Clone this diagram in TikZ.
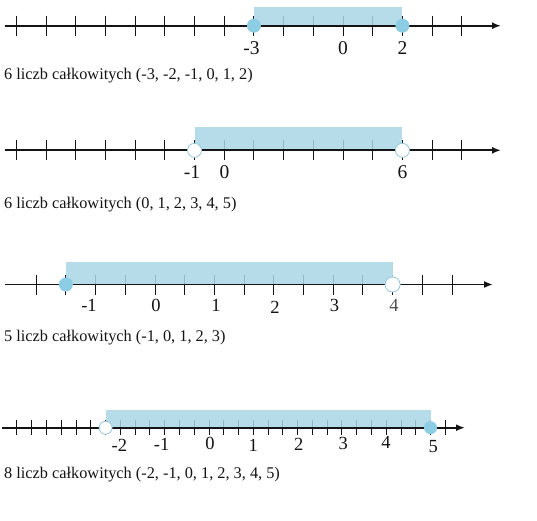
\documentclass[tikz,border=0pt]{standalone}
\usepackage{fontspec}
\setmainfont{Liberation Serif}
\usetikzlibrary{arrows.meta}
\definecolor{bandblue}{RGB}{170,214,230}
\definecolor{dotblue}{RGB}{140,205,227}
\definecolor{ringblue}{RGB}{150,200,216}
\definecolor{axisblack}{RGB}{20,20,20}
\definecolor{numgray}{RGB}{80,80,80}
\tikzset{
  axisline/.style={line width=1.9pt, draw=axisblack, -{Latex[length=9pt,width=7pt]}},
  tickmark/.style={line width=1pt, draw=axisblack},
  band/.style={fill=bandblue, draw=none, opacity=0.85},
  closeddot/.style={circle, fill=dotblue, draw=none, inner sep=0pt},
  opendot/.style={circle, fill=white, draw=ringblue, line width=0.8pt, inner sep=0pt},
  numlabel/.style={font=\fontsize{19.5}{21}\selectfont, text=axisblack, inner sep=0pt},
  numlabelsmall/.style={font=\fontsize{18.5}{20}\selectfont, text=axisblack, inner sep=0pt},
  caption/.style={font=\fontsize{16.3}{18}\selectfont, text=axisblack, anchor=west, inner sep=0pt},
}
\begin{document}
\begin{tikzpicture}[x=1pt,y=-1pt]
\useasboundingbox[fill=white] (0,0) rectangle (537,520);

% ---------- line 1 ----------
\coordinate (a1s) at (5,25.7);
\coordinate (a1e) at (501,25.7);
\foreach \k in {-11,...,4} {
  \draw[tickmark] ({343+29.7*\k},15.7) -- ({343+29.7*\k},35.7);
}
\fill[band] (253.9,7) rectangle (402.4,25.7);
\draw[axisline] (a1s) -- (a1e);
\node[closeddot, minimum size=14pt] (d1a) at (253.9,25.7) {};
\node[closeddot, minimum size=14pt] (d1b) at (402.4,25.7) {};
\node[numlabel] (l1a) at (251.5,48) {-3};
\node[numlabel] (l1b) at (343,48) {0};
\node[numlabel] (l1c) at (402.4,48) {2};
\node[caption] (c1) at (4,76) {6 liczb całkowitych (-3, -2, -1, 0, 1, 2)};

% ---------- line 2 ----------
\coordinate (a2s) at (5,150.3);
\coordinate (a2e) at (501,150.3);
\foreach \k in {-11,...,4} {
  \draw[tickmark] ({343+29.7*\k},140.3) -- ({343+29.7*\k},160.3);
}
\fill[band] (194.5,127) rectangle (402.4,150.3);
\draw[axisline] (a2s) -- (a2e);
\node[opendot, minimum size=14pt] (d2a) at (194.5,150.3) {};
\node[opendot, minimum size=14pt] (d2b) at (402.4,150.3) {};
\node[numlabel] (l2a) at (192,172) {-1};
\node[numlabel] (l2b) at (224.5,172) {0};
\node[numlabel] (l2c) at (402.4,172) {6};
\node[caption] (c2) at (4,205) {6 liczb całkowitych (0, 1, 2, 3, 4, 5)};

% ---------- line 3 ----------
\coordinate (a3s) at (5,284.5);
\coordinate (a3e) at (493,284.5);
\foreach \k in {-4,...,10} {
  \draw[tickmark] ({155+29.7*\k},274.5) -- ({155+29.7*\k},294.5);
}
\fill[band] (65.9,262) rectangle (392.6,284.5);
\draw[axisline] (a3s) -- (a3e);
\node[closeddot, minimum size=14pt] (d3a) at (65.9,284.5) {};
\node[opendot, minimum size=15pt] (d3b) at (392.6,284.5) {};
\node[numlabelsmall] (l3a) at (89,305) {-1};
\node[numlabelsmall] (l3b) at (156,305) {0};
\node[numlabelsmall] (l3c) at (216,305) {1};
\node[numlabelsmall] (l3d) at (275,307.5) {2};
\node[numlabelsmall] (l3e) at (334.5,305) {3};
\node[numlabelsmall, text=numgray] (l3f) at (394,305.5) {4};
\node[caption] (c3) at (4,338) {5 liczb całkowitych (-1, 0, 1, 2, 3)};

% ---------- line 4 ----------
\coordinate (a4s) at (2,427.7);
\coordinate (a4e) at (465,427.7);
\foreach \k in {-13,...,16} {
  \draw[tickmark] ({209+14.77*\k},420.2) -- ({209+14.77*\k},435.2);
}
\fill[band] (105.6,410) rectangle (430.5,427.7);
\draw[axisline] (a4s) -- (a4e);
\node[opendot, minimum size=13pt] (d4a) at (105.6,427.7) {};
\node[closeddot, minimum size=13pt] (d4b) at (430.5,427.7) {};
\node[numlabelsmall] (l4a) at (119.3,445) {-2};
\node[numlabelsmall] (l4b) at (161.7,444) {-1};
\node[numlabelsmall] (l4c) at (210,443.5) {0};
\node[numlabelsmall] (l4d) at (253.3,445) {1};
\node[numlabelsmall] (l4e) at (298.7,444.5) {2};
\node[numlabelsmall] (l4f) at (343.3,443) {3};
\node[numlabelsmall] (l4g) at (386,442) {4};
\node[numlabelsmall] (l4h) at (433.3,447) {5};
\node[caption] (c4) at (4,475) {8 liczb całkowitych (-2, -1, 0, 1, 2, 3, 4, 5)};
\end{tikzpicture}
\end{document}
